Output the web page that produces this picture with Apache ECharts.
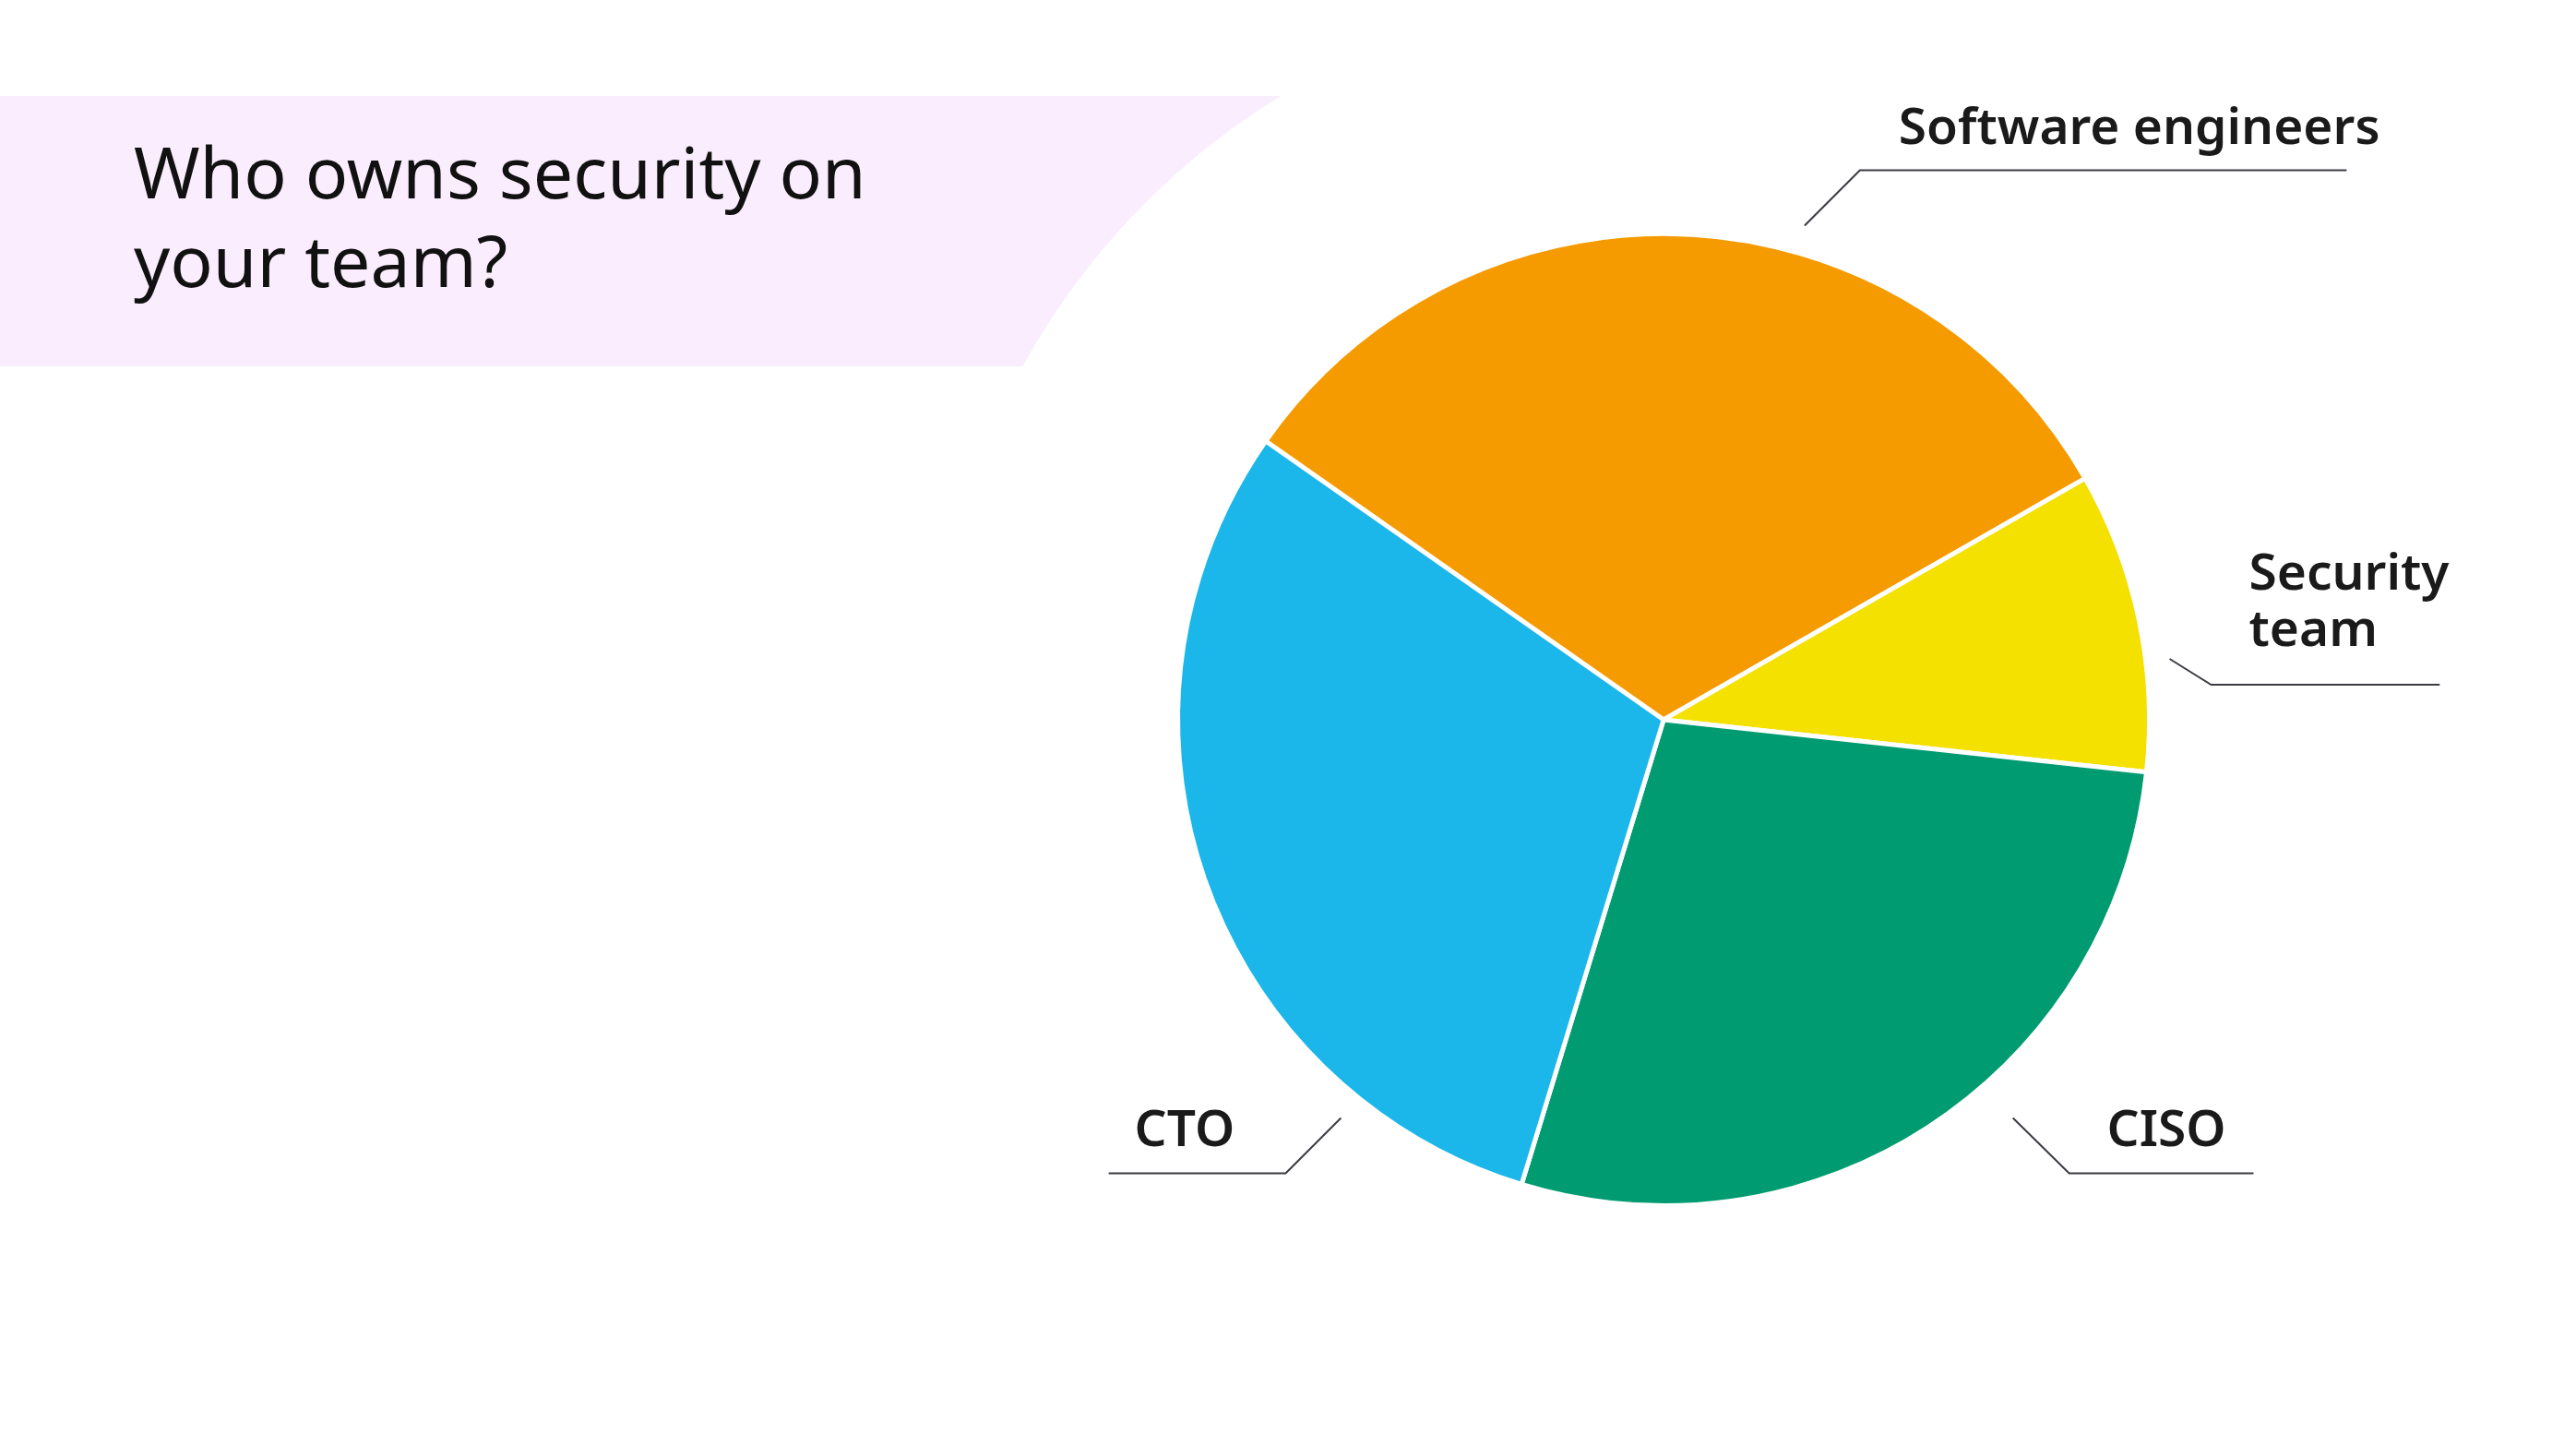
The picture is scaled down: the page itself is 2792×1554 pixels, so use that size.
<!DOCTYPE html>
<html>
<head>
<meta charset="utf-8">
<title>Who owns security on your team?</title>
<style>
  html, body { margin: 0; padding: 0; background: #fff; }
  #chart { width: 2792px; height: 1554px; }
</style>
<script src="https://cdn.jsdelivr.net/npm/echarts@6/dist/echarts.min.js"></script>
</head>
<body>
<div id="chart"></div>
<script>
// data
var categories = ['Software engineers', 'Security team', 'CISO', 'CTO'];
var shares = [32, 10, 28, 30];
var labelTexts = ['Software engineers', 'Security\nteam', 'CISO', 'CTO'];
var sliceColors = ['#F59B00', '#F4E100', '#009B70', '#1BB6EA'];

// hand drawn guide lines, offsets from pie centre (px at radius 527)
var guides = [
    {line: [[153, -536], [213, -596], [741, -596]], text: [255, -640]},
    {line: [[549, -66], [594, -38], [842, -38]], text: [635, -126]},
    {line: [[379, 432], [440, 492], [640, 492]], text: [481, 447]},
    {line: [[-350, 432], [-410, 492], [-602, 492]], text: [-574, 447]}
];

var chart = echarts.init(document.getElementById('chart'));
var W = chart.getWidth(), H = chart.getHeight();
var cx = W * 0.6458, cy = H * 0.5019;
var R = Math.min(W, H) / 2 * 0.6776;
var k = R / 527;

var seriesData = [];
for (var i = 0; i < categories.length; i++) {
    seriesData.push({name: categories[i], value: shares[i], itemStyle: {color: sliceColors[i]}});
}

var option = {
    backgroundColor: '#fff',
    animation: false,
    graphic: [
        {
            type: 'rect', z: 0,
            shape: {x: 0, y: 104, width: 1450, height: 293},
            style: {fill: '#FAEDFD'}
        },
        {
            // the banner is cut by a ring around the pie
            type: 'circle', z: 1,
            shape: {cx: cx, cy: cy, r: R * 794 / 527},
            style: {fill: '#fff'}
        },
        {
            type: 'text', z: 5,
            x: 145, y: 145,
            style: {
                text: 'Who owns security on\nyour team?',
                fontFamily: 'Noto Sans',
                fontSize: 77,
                lineHeight: 96,
                fill: '#111',
                verticalAlign: 'top'
            }
        }
    ],
    series: [
        {
            type: 'pie',
            z: 10,
            center: [cx, cy],
            radius: R,
            startAngle: 145,
            clockwise: true,
            data: seriesData,
            itemStyle: {borderColor: '#fff', borderWidth: 5},
            label: {
                show: true,
                position: 'outside',
                formatter: function (p) { return labelTexts[p.dataIndex]; },
                fontFamily: 'Noto Sans',
                fontWeight: 600,
                fontSize: 55,
                lineHeight: 61,
                color: '#1a1a1a'
            },
            labelLine: {
                show: true,
                lineStyle: {color: '#3a3a42', width: 2}
            },
            labelLayout: function (p) {
                var g = guides[p.dataIndex];
                return {
                    x: cx + g.text[0] * k,
                    y: cy + g.text[1] * k,
                    align: 'left',
                    verticalAlign: 'middle',
                    labelLinePoints: g.line.map(function (pt) {
                        return [cx + pt[0] * k, cy + pt[1] * k];
                    })
                };
            },
            emphasis: {disabled: true}
        }
    ]
};

chart.setOption(option);
</script>
</body>
</html>
